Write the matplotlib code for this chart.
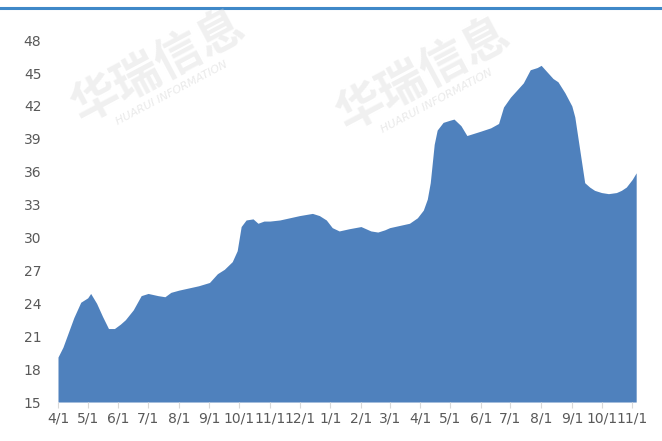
import matplotlib
matplotlib.use("Agg")
import matplotlib.pyplot as plt
import pandas as pd

# dates (two seasons, April to early November of the next year)
dates = ["2019-04-01", "2019-04-06", "2019-04-17", "2019-04-24", "2019-05-01", "2019-05-04",
         "2019-05-10", "2019-05-16", "2019-05-22", "2019-05-28", "2019-06-03", "2019-06-08",
         "2019-06-16", "2019-06-24", "2019-07-01", "2019-07-11", "2019-07-18", "2019-07-24",
         "2019-08-01", "2019-08-11", "2019-08-21", "2019-09-01", "2019-09-09", "2019-09-16",
         "2019-09-24", "2019-09-29", "2019-10-03", "2019-10-08", "2019-10-15", "2019-10-20",
         "2019-10-26", "2019-11-01", "2019-11-11", "2019-11-21", "2019-12-01", "2019-12-14",
         "2019-12-21", "2019-12-28", "2020-01-03", "2020-01-10", "2020-01-20", "2020-02-01",
         "2020-02-11", "2020-02-18", "2020-02-25", "2020-03-01", "2020-03-11", "2020-03-21",
         "2020-03-29", "2020-04-04", "2020-04-08", "2020-04-11", "2020-04-15", "2020-04-18",
         "2020-04-24", "2020-05-01", "2020-05-05", "2020-05-12", "2020-05-18", "2020-05-25",
         "2020-06-01", "2020-06-11", "2020-06-19", "2020-06-24", "2020-07-01", "2020-07-08",
         "2020-07-14", "2020-07-21", "2020-07-28", "2020-08-01", "2020-08-08", "2020-08-13",
         "2020-08-18", "2020-08-25", "2020-09-01", "2020-09-04", "2020-09-09", "2020-09-14",
         "2020-09-19", "2020-09-24", "2020-10-01", "2020-10-08", "2020-10-16", "2020-10-21",
         "2020-10-26", "2020-11-01", "2020-11-05"]
values = [19.1, 20.0, 22.7, 24.1, 24.5, 24.9,
          24.0, 22.8, 21.7, 21.7, 22.1, 22.5,
          23.4, 24.7, 24.9, 24.7, 24.6, 25.0,
          25.2, 25.4, 25.6, 25.9, 26.7, 27.1,
          27.8, 28.8, 31.0, 31.6, 31.7, 31.3,
          31.5, 31.5, 31.6, 31.8, 32.0, 32.2,
          32.0, 31.6, 30.9, 30.6, 30.8, 31.0,
          30.6, 30.5, 30.7, 30.9, 31.1, 31.3,
          31.8, 32.5, 33.5, 35.0, 38.5, 39.8,
          40.5, 40.7, 40.8, 40.2, 39.3, 39.5,
          39.7, 40.0, 40.4, 41.9, 42.8, 43.5,
          44.1, 45.3, 45.5, 45.7, 45.0, 44.5,
          44.2, 43.2, 42.0, 41.0, 38.0, 35.0,
          34.6, 34.3, 34.1, 34.0, 34.1, 34.3,
          34.6, 35.3, 35.9]
y_ticks = [15, 18, 21, 24, 27, 30, 33, 36, 39, 42, 45, 48]

x = pd.to_datetime(dates)

fig = plt.figure(figsize=(6.62, 4.41), dpi=100)

# watermark (behind the chart)
for wx, wy in [(0.24, 0.85), (0.64, 0.83)]:
    fig.text(wx, wy, "华瑞信息", fontsize=34, color='#d4d4d4', alpha=0.35, rotation=28,
             ha='center', va='center', family=['Noto Sans CJK SC', 'DejaVu Sans'], weight='bold')
    fig.text(wx + 0.02, wy - 0.06, "HUARUI INFORMATION", fontsize=8, color='#d0d0d0', alpha=0.45,
             rotation=28, ha='center', va='center', style='italic', family=['DejaVu Sans'])

ax = fig.add_axes([0.0876, 0.0884, 0.8734, 0.8206])
ax.patch.set_alpha(0)

ax.fill_between(x, 15, values, color='#4F81BD', linewidth=0)

ax.set_ylim(15, 48)
ax.set_yticks(y_ticks)
ax.set_xlim(x[0], x[-1])

months = pd.date_range("2019-04-01", "2020-11-01", freq="MS")
ax.set_xticks(months)
ax.set_xticklabels([f"{d.month}/1" for d in months])

for s in ax.spines.values():
    s.set_visible(False)
ax.tick_params(axis='y', length=0, labelsize=10, labelcolor='#595959', pad=12)
ax.tick_params(axis='x', length=4, color='#d9d9d9', labelsize=10, labelcolor='#595959', pad=3)

# top border line
fig.add_artist(plt.Line2D([0, 1], [0.982, 0.982], color='#3F88C8', linewidth=2.2,
                          transform=fig.transFigure))

fig.savefig("out.png", dpi=100)
